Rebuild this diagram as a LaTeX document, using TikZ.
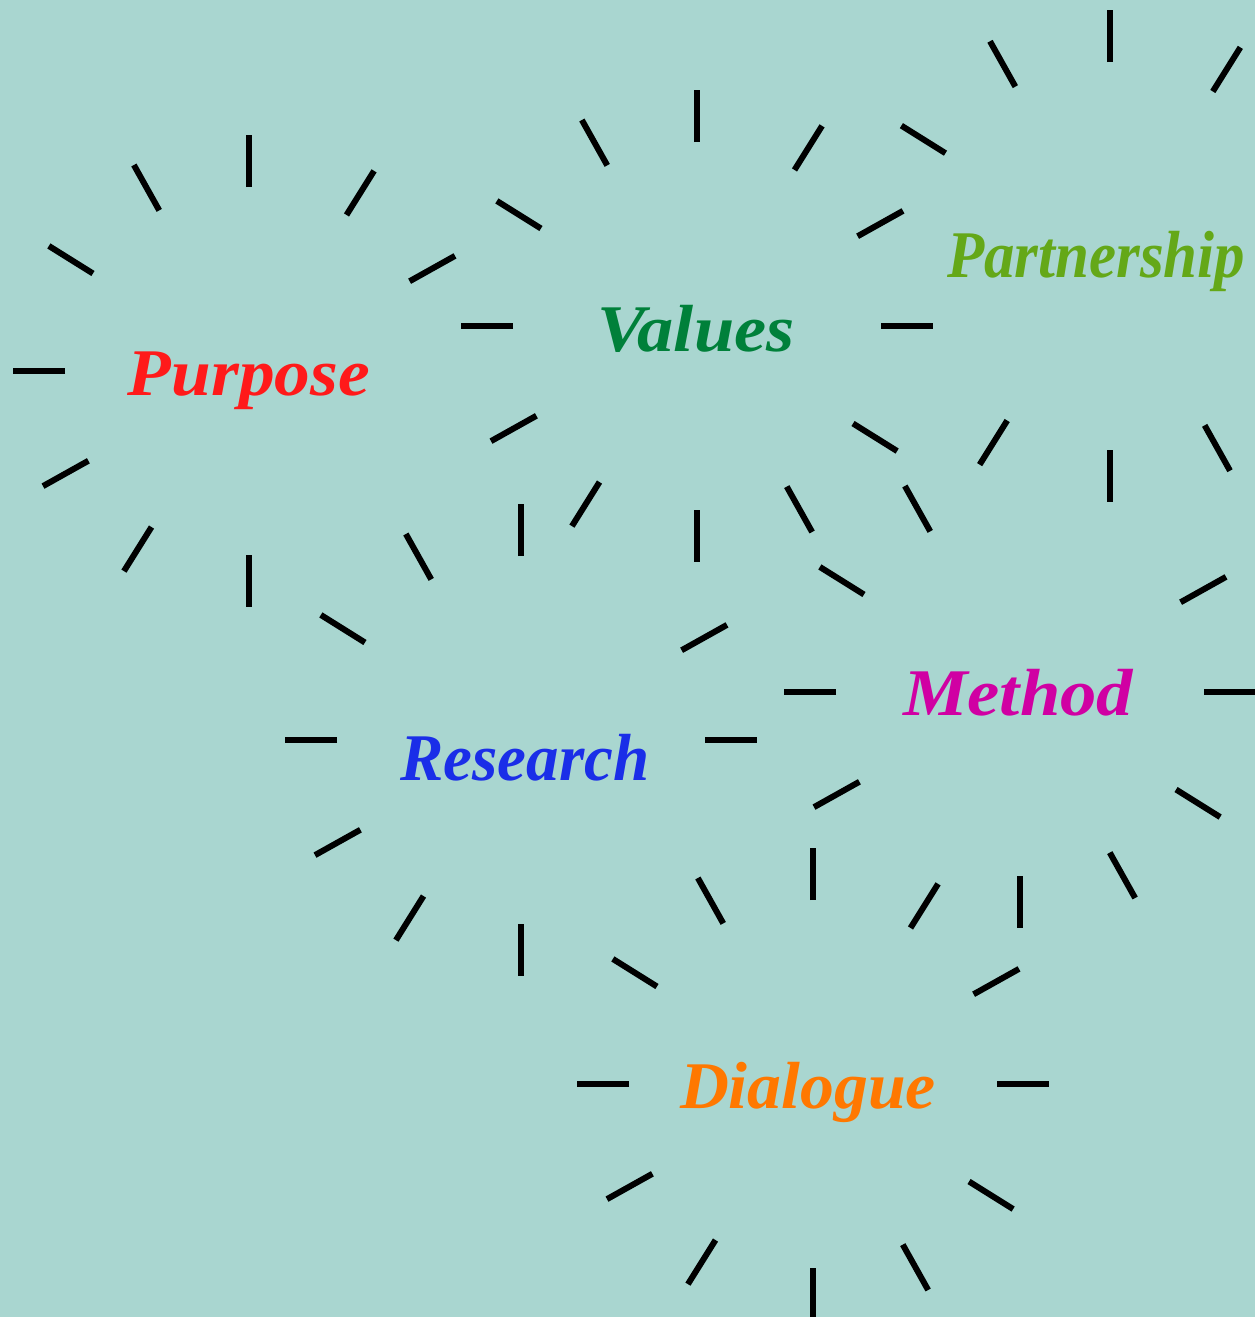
\documentclass[tikz,border=0pt]{standalone}
\usepackage{fontspec}
\setmainfont{Liberation Serif}
\usepackage{graphicx}

\definecolor{bg}{HTML}{A9D6D0}
\definecolor{cpurpose}{HTML}{FF1A1A}
\definecolor{cvalues}{HTML}{00803A}
\definecolor{cpartner}{HTML}{64A818}
\definecolor{cresearch}{HTML}{1A2EE8}
\definecolor{cmethod}{HTML}{D000A3}
\definecolor{cdialogue}{HTML}{FF7800}

% horizontally fit a word to a given width, keeping its height
\newcommand{\fitword}[2]{\resizebox{#1}{\height}{#2}}

\begin{document}
\begin{tikzpicture}[x=0.75pt,y=-0.75pt,
  tickmark/.style={line width=4.5pt, black},
  word/.style={anchor=base, inner sep=0pt,
    font=\fontsize{50}{60}\selectfont\bfseries\itshape}]

\fill[bg] (0,0) rectangle (1255,1317);
\clip (0,0) rectangle (1255,1317);

% rays around each word: centre x / centre y / inner radius / outer radius / angles
\foreach \cx/\cy/\ri/\ro/\angs in {
    249/371/184/236/{30,60,90,120,150,180,210,240,270},
    697/326/184/236/{0,30,60,90,120,150,180,210,240,270,300,330},
    1110/256/194/246/{60,90,120,150,240,270,300},
    521/740/184/236/{0,30,90,120,150,180,210,240,270},
    1020/692/184/236/{0,30,120,150,180,210,270,300,330},
    813/1084/184/236/{0,30,60,90,120,150,180,210,240,270,300,330}}{
  \foreach \a in \angs {
    % the rays sit slightly clockwise of the even 30-degree steps
    \pgfmathsetmacro\b{\a - (mod(\a,90)==30 ? 0.8 : 0) - (mod(\a,90)==60 ? 2 : 0)}
    \draw[tickmark] ({\cx+\ri*cos(\b)},{\cy-\ri*sin(\b)}) --
                    ({\cx+\ro*cos(\b)},{\cy-\ro*sin(\b)});
  }
}

\node[word, text=cpurpose]  (purpose)  at (249,395)  {\fitword{181.5pt}{Purpose}};
\node[word, text=cvalues]   (values)   at (696,351)  {\fitword{147.8pt}{Values}};
\node[word, text=cpartner]  (partner)  at (1096,277) {\fitword{223.5pt}{Partnership}};
\node[word, text=cresearch] (research) at (525,780)  {\fitword{186.8pt}{Research}};
\node[word, text=cmethod]   (method)   at (1018,715) {\fitword{172.5pt}{Method}};
\node[word, text=cdialogue] (dialogue) at (808,1108) {\fitword{192pt}{Dialogue}};
\end{tikzpicture}
\end{document}
